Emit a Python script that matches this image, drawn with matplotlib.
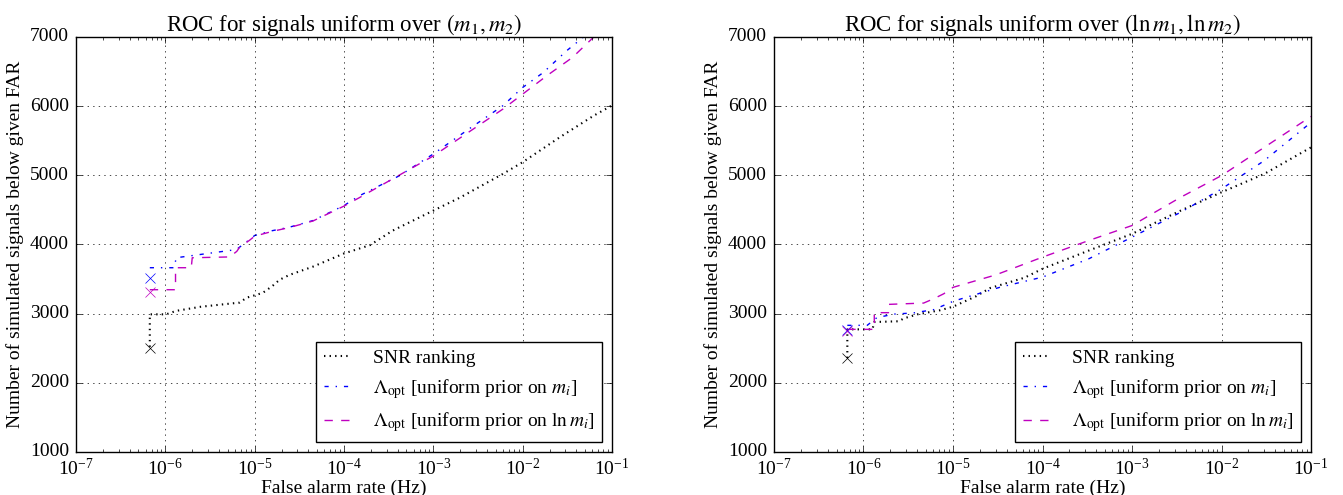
import matplotlib
matplotlib.use("Agg")
import matplotlib.pyplot as plt

# ---- data ----
# left panel: signals uniform over (m1, m2)
far_snr_m = [6.7e-7, 6.7e-7, 1.02e-6, 1.32e-6, 2.5e-6, 6.8e-6, 8.1e-6, 1.23e-5, 1.58e-5,
             1.9e-5, 2.45e-5, 4.5e-5, 1e-4, 1.95e-4, 3.5e-4, 1e-3, 2e-3, 6e-3, 1e-2,
             2.6e-2, 6.2e-2, 1e-1]
snr_m = [2520, 2990, 2990, 3040, 3100, 3160, 3230, 3300, 3400, 3490, 3560, 3680, 3870,
         3990, 4200, 4490, 4680, 5020, 5190, 5550, 5860, 6010]

far_lin_m = [6.7e-7, 1.26e-6, 1.32e-6, 5.25e-6, 6.3e-6, 8.7e-6, 1e-5, 1.58e-5, 2.45e-5,
             4.5e-5, 1e-4, 1.5e-4, 4.2e-4, 1e-3, 2.35e-3, 6e-3, 1e-2, 1.7e-2, 3.1e-2, 4.8e-2]
lin_m = [3664, 3664, 3808, 3913, 3930, 4068, 4130, 4200, 4250, 4346, 4563, 4707, 4996,
         5309, 5645, 6006, 6270, 6486, 6800, 7000]

far_log_m = [6.7e-7, 1.3e-6, 1.3e-6, 1.95e-6, 2.0e-6, 5.25e-6, 6.3e-6, 6.8e-6, 8.7e-6,
             1e-5, 1.58e-5, 2.45e-5, 4.5e-5, 1e-4, 1.5e-4, 1e-3, 6e-3, 1e-2, 1.86e-2,
             3.6e-2, 6.2e-2]
log_m = [3346, 3346, 3664, 3664, 3808, 3820, 3900, 3961, 4058, 4120, 4190, 4245, 4340,
         4555, 4680, 5280, 5957, 6174, 6439, 6703, 6995]

far_first_m = 6.7e-7
first_m = [2500, 3514, 3312]   # SNR, uniform m_i, uniform ln m_i

# right panel: signals uniform over (ln m1, ln m2)
far_snr_l = [6.6e-7, 6.6e-7, 1.26e-6, 1.32e-6, 2.5e-6, 2.8e-6, 4e-6, 7.1e-6, 1e-5,
             1.8e-5, 2.6e-5, 6.3e-5, 1e-4, 3.3e-4, 1e-3, 3.5e-3, 1e-2, 3e-2, 1e-1]
snr_l = [2359, 2773, 2773, 2879, 2890, 2930, 2990, 3048, 3100, 3250, 3370, 3520, 3649,
         3913, 4154, 4490, 4755, 5020, 5404]

far_lin_l = [6.6e-7, 1.1e-6, 1.41e-6, 2.2e-6, 3.6e-6, 6.1e-6, 1.02e-5, 3.4e-5, 1e-4,
             3.3e-4, 1e-3, 3.5e-3, 1e-2, 3e-2, 1e-1]
lin_l = [2831, 2831, 2942, 2994, 3010, 3058, 3182, 3384, 3528, 3794, 4106, 4466, 4803,
         5212, 5765]

far_log_l = [6.6e-7, 1.32e-6, 1.32e-6, 1.9e-6, 1.9e-6, 4.7e-6, 6.1e-6, 7.9e-6, 1e-5,
             3e-5, 1e-4, 3.3e-4, 1e-3, 3.5e-3, 1e-2, 3e-2, 1e-1]
log_l = [2773, 2773, 3014, 3014, 3134, 3153, 3216, 3288, 3380, 3560, 3817, 4058, 4274,
         4683, 4996, 5404, 5851]

far_first_l = 6.6e-7
first_l = [2359, 2760, 2742]

plt.style.use("classic")
plt.rcParams["font.family"] = ["Liberation Serif", "DejaVu Serif"]
plt.rcParams["mathtext.fontset"] = "stix"
plt.rcParams["font.size"] = 14
plt.rcParams["figure.facecolor"] = "white"
plt.rcParams["savefig.facecolor"] = "white"
plt.rcParams["xtick.major.pad"] = 4
plt.rcParams["xtick.minor.pad"] = 4
plt.rcParams["ytick.major.pad"] = 5

fig = plt.figure(figsize=(13.43, 4.95), dpi=100)
ax1 = fig.add_axes([0.0566, 0.0869, 0.3991, 0.8384])
ax2 = fig.add_axes([0.5763, 0.0869, 0.3999, 0.8384])

panels = [
    (ax1, r"ROC for signals uniform over $(m_1, m_2)$",
     (far_snr_m, snr_m), (far_lin_m, lin_m), (far_log_m, log_m), far_first_m, first_m),
    (ax2, r"ROC for signals uniform over $(\ln m_1, \ln m_2)$",
     (far_snr_l, snr_l), (far_lin_l, lin_l), (far_log_l, log_l), far_first_l, first_l),
]

for ax, title, snr, lin, lg, f0, y0 in panels:
    ax.plot(snr[0], snr[1], "k:", lw=1.5, label="SNR ranking")
    ax.plot(lin[0], lin[1], "b-.", lw=1.0,
            label=r"$\Lambda_{\rm opt}$ [uniform prior on $m_i$]")
    ax.plot(lg[0], lg[1], "m--", lw=1.0,
            label=r"$\Lambda_{\rm opt}$ [uniform prior on $\ln m_i$]")
    ax.plot([f0], [y0[0]], "kx", ms=7)
    ax.plot([f0], [y0[1]], "bx", ms=7)
    ax.plot([f0], [y0[2]], "mx", ms=7)
    ax.set_xscale("log")
    ax.set_xlim(1e-7, 1e-1)
    ax.set_ylim(1000, 7000)
    ax.grid(True)
    ax.set_title(title, fontsize=16.5, pad=4)
    ax.set_xlabel("False alarm rate (Hz)", labelpad=1)
    ax.set_ylabel("Number of simulated signals below given FAR", labelpad=4)
    ax.legend(loc="lower right", fontsize=14, handlelength=1.4, handletextpad=1.1,
              numpoints=1)

fig.savefig("out.png", dpi=100)
